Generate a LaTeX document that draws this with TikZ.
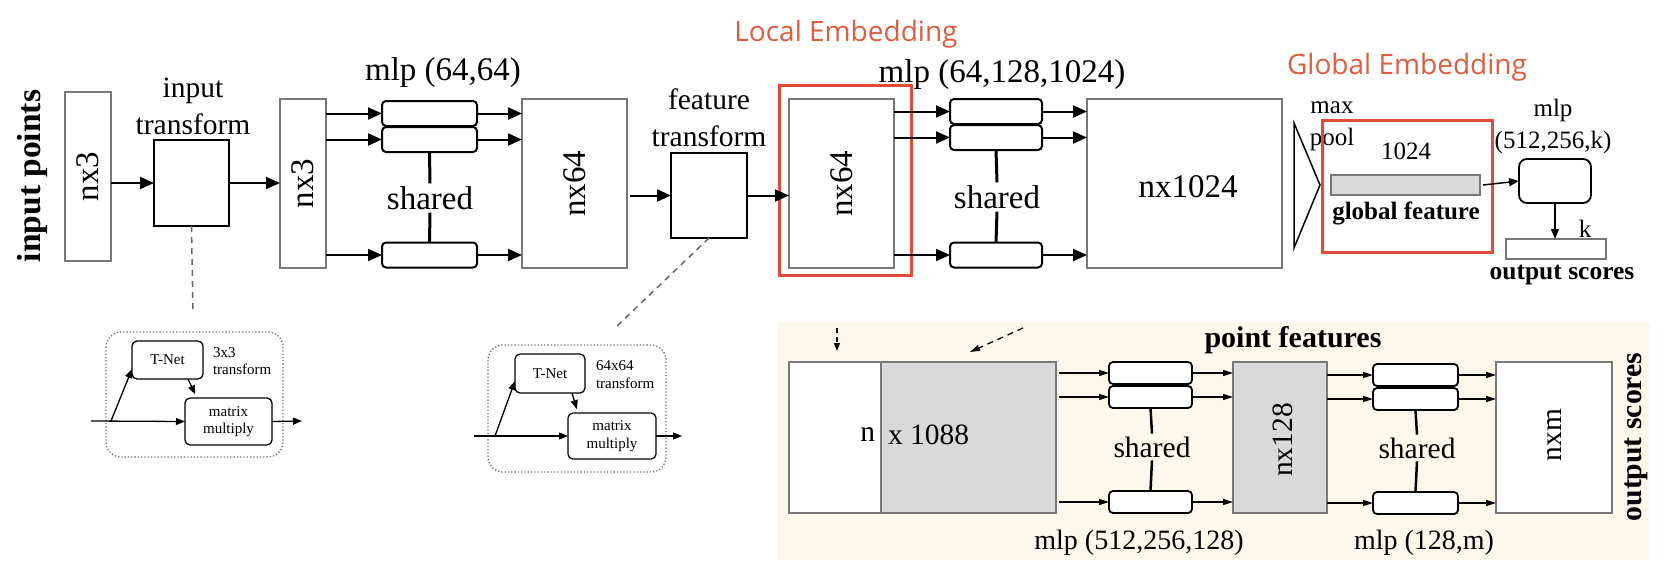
\documentclass[tikz,border=0pt]{standalone}
\usepackage{fontspec}
\setmainfont{Liberation Serif}
\newfontfamily\embfont{Open Sans}
\usetikzlibrary{arrows.meta}
\definecolor{embred}{RGB}{226,76,52}
\definecolor{embtext}{RGB}{222,92,64}
\definecolor{boxgray}{RGB}{120,120,120}
\definecolor{featgray}{RGB}{217,217,217}
\definecolor{panelbg}{RGB}{252,248,236}

\begin{document}
\begin{tikzpicture}[x=1pt, y=-1pt,
    every node/.style={inner sep=0pt, outer sep=0pt},
    bigtxt/.style={font=\fontsize{33}{38}\selectfont},
    midtxt/.style={font=\fontsize{29.5}{37}\selectfont, align=center},
    smalltxt/.style={font=\fontsize{25}{32}\selectfont, align=center},
    tinytxt/.style={font=\fontsize{15}{17.5}\selectfont},
    embtxt/.style={font=\embfont\fontsize{28}{32}\selectfont, text=embtext},
    databox/.style={draw=boxgray, line width=1.5pt, fill=white},
    tbox/.style={draw=black, line width=1.5pt, fill=white},
    mlpbox/.style={draw=black, line width=2pt, rounded corners=4pt, fill=white},
    flow/.style={line width=2pt, -{Triangle[length=14pt,width=12pt]}},
    thinflow/.style={line width=1.3pt, -{Triangle[length=10pt,width=6pt]}},
    sharedline/.style={line width=3pt},
    redbox/.style={draw=embred, line width=3pt},
    callout/.style={draw=black!60, line width=1.5pt, dash pattern=on 6pt off 5pt},
    module/.style={draw=black!55, line width=1.3pt, dotted, rounded corners=15pt},
    tnetbox/.style={draw=black, line width=1.3pt, rounded corners=5pt, fill=white,
        font=\fontsize{15}{17.5}\selectfont, align=center},
    tflow/.style={line width=1.3pt, -{Triangle[length=9pt,width=7pt]}}]

    \useasboundingbox (0,0) rectangle (1673,581);

    \node[embtxt] (locemb) at (846,34) {Local Embedding};
    \node[embtxt] (globemb) at (1407,67) {Global Embedding};

    \node[bigtxt, font=\bfseries\fontsize{33.5}{38}\selectfont, rotate=90] (inlabel) at (32,176) {input points};
    \node[databox, minimum width=46pt, minimum height=169pt] (nx3a) at (88,176.5) {};
    \node[bigtxt, rotate=90] (nx3atxt) at (nx3a) {nx3};
    \node[tbox, minimum width=75pt, minimum height=86pt] (intrans) at (191.5,183) {};
    \node[midtxt] (intranstxt) at (193,106) {input\\transform};
    \node[databox, minimum width=46pt, minimum height=169pt] (nx3b) at (303,183.5) {};
    \node[bigtxt, rotate=90] (nx3btxt) at (nx3b) {nx3};

    \node[bigtxt] (mlpa) at (443,73) {mlp (64,64)};
    \node[mlpbox, minimum width=95pt, minimum height=25pt] (a1) at (429.5,113.5) {};
    \node[mlpbox, minimum width=95pt, minimum height=25pt] (a2) at (429.5,139.5) {};
    \node[mlpbox, minimum width=95pt, minimum height=25pt] (a3) at (429.5,255) {};
    \node[bigtxt, inner sep=3pt] (shareda) at (430,198) {shared};

    \node[databox, minimum width=105pt, minimum height=169pt] (nx64a) at (574.5,183.5) {};
    \node[bigtxt, rotate=90] (nx64atxt) at (nx64a) {nx64};
    \node[tbox, minimum width=76pt, minimum height=85pt] (ftrans) at (709,195.5) {};
    \node[midtxt] (ftranstxt) at (709,118) {feature\\transform};
    \node[databox, minimum width=105pt, minimum height=169pt] (nx64b) at (841.5,183.5) {};
    \node[bigtxt, rotate=90] (nx64btxt) at (nx64b) {nx64};
    \node[redbox, minimum width=132pt, minimum height=190pt] (locbox) at (845,180) {};

    \node[bigtxt] (mlpb) at (1002,75) {mlp (64,128,1024)};
    \node[mlpbox, minimum width=92pt, minimum height=25pt] (b1) at (996,111.5) {};
    \node[mlpbox, minimum width=92pt, minimum height=25pt] (b2) at (996,137.5) {};
    \node[mlpbox, minimum width=92pt, minimum height=25pt] (b3) at (996,255) {};
    \node[bigtxt, inner sep=3pt] (sharedb) at (997,197) {shared};
    \node[databox, minimum width=195pt, minimum height=169pt] (nx1024) at (1184.5,183.5) {};
    \node[bigtxt] (nx1024txt) at (1188,187) {nx1024};

    \draw[line width=1.5pt] (1294,123) -- (1320,185) -- (1294,248) -- cycle;
    \node[smalltxt] (maxpool) at (1332,126) {max\\pool};
    \node[redbox, minimum width=170pt, minimum height=132pt] (globbox) at (1407,186) {};
    \node[smalltxt] (gfdim) at (1406,151) {1024};
    \node[draw=boxgray, line width=1.5pt, fill=featgray, minimum width=149pt, minimum height=20pt] (gf) at (1405.5,185) {};
    \node[smalltxt, font=\bfseries\fontsize{25}{30}\selectfont] (gftxt) at (1406,213) {global feature};
    \node[smalltxt] (mlpk) at (1553,126.5) {mlp\\(512,256,k)};
    \node[mlpbox, line width=1.8pt, rounded corners=8pt, minimum width=72pt, minimum height=44pt] (cls) at (1555,181) {};
    \node[draw=boxgray, line width=1.5pt, minimum width=100pt, minimum height=20pt] (scores) at (1556,249) {};
    \node[smalltxt] (ktxt) at (1585,229) {k};
    \node[smalltxt, font=\bfseries\fontsize{25.5}{30}\selectfont] (scorestxt) at (1562,275) {output scores};

    \draw[flow] (nx3a.east |- intrans.west) -- (intrans.west);
    \draw[flow] (intrans.east) -- (nx3b.west |- intrans.east);
    \foreach \b in {a1,a2,a3} {
        \draw[flow] (nx3b.east |- \b.west) -- (\b.west);
        \draw[flow] (\b.east) -- (nx64a.west |- \b.east);
    }
    \draw[sharedline] (a2.south) -- (shareda.north);
    \draw[sharedline] (shareda.south) -- (a3.north);
    \draw[flow] ([xshift=3pt]nx64a.east |- ftrans.west) -- (ftrans.west);
    \draw[flow] (ftrans.east) -- (nx64b.west |- ftrans.east);
    \foreach \b in {b1,b2,b3} {
        \draw[flow] (nx64b.east |- \b.west) -- (\b.west);
        \draw[flow] (\b.east) -- (nx1024.west |- \b.east);
    }
    \draw[sharedline] (b2.south) -- (sharedb.north);
    \draw[sharedline] (sharedb.south) -- (b3.north);
    \draw[line width=1.5pt, -{Triangle[length=10pt,width=8pt]}] ([xshift=3pt]gf.east) -- (cls.west);
    \draw[line width=1.5pt, -{Triangle[length=10pt,width=8pt]}] (cls.south) -- (cls.south |- scores.north);

    \coordinate (incall) at (193,312);
    \coordinate (featcall) at (616,327);
    \draw[callout] (intrans.south) -- (incall);
    \draw[callout] (ftrans.south) -- (featcall);

    \draw[module] (106,332) rectangle (283,457);
    \node[tnetbox, minimum width=71pt, minimum height=38pt] (tnetl) at (167.5,360) {T-Net};
    \node[tinytxt, align=left, anchor=west] (tnetltxt) at (213,361) {3x3\\transform};
    \node[tnetbox, minimum width=87pt, minimum height=47pt] (mml) at (228.5,421.5) {matrix\\multiply};
    \coordinate (inl) at (91,421);
    \coordinate (splitl) at (111,421);
    \coordinate (outl) at (302,421);
    \draw[tflow] (inl) -- (mml.west);
    \draw[tflow] (splitl) -- (tnetl.west |- 0,369);
    \draw[tflow] (mml.east) -- (outl);
    \draw[tflow, shorten >=4pt] ([xshift=-15pt]tnetl.south east) -- ([xshift=12pt]mml.north west);

    \draw[module] (488,345) rectangle (666,472);
    \node[tnetbox, minimum width=70pt, minimum height=39pt] (tnetr) at (550,373.5) {T-Net};
    \node[tinytxt, align=left, anchor=west] (tnetrtxt) at (596,374.5) {64x64\\transform};
    \node[tnetbox, minimum width=88pt, minimum height=46pt] (mmr) at (612,436) {matrix\\multiply};
    \coordinate (inr) at (474,436);
    \coordinate (splitr) at (495,436);
    \coordinate (outr) at (682,436);
    \draw[tflow] (inr) -- (mmr.west);
    \draw[tflow] (splitr) -- (tnetr.west |- 0,381);
    \draw[tflow] (mmr.east) -- (outr);
    \draw[tflow, shorten >=4pt] ([xshift=-13pt]tnetr.south east) -- ([xshift=10pt]mmr.north west);

    \fill[panelbg] (777,322) rectangle (1650,560);
    \coordinate (segin) at (837,328);
    \coordinate (segglob) at (1023,328);
    \node[font=\bfseries\fontsize{30}{34}\selectfont] (pointfeat) at (1293,340) {point features};
    \node[databox, minimum width=92pt, minimum height=151pt] (catw) at (835,437.5) {};
    \node[databox, fill=featgray, minimum width=175pt, minimum height=151pt] (catg) at (968.5,437.5) {};
    \node[midtxt, anchor=east] (catn) at (875,435) {n};
    \node[midtxt, anchor=west] (catdim) at (888,435) {x 1088};
    \draw[line width=1.3pt, dash pattern=on 5pt off 4pt, -{Triangle[length=8pt,width=6pt]}] (segin) -- (segin |- 0,351);
    \draw[line width=1.3pt, dash pattern=on 6pt off 5pt, -{Triangle[length=10pt,width=6pt]}] (segglob) -- (970,352);

    \node[mlpbox, line width=1.8pt, minimum width=83pt, minimum height=22pt] (c1) at (1150.5,373) {};
    \node[mlpbox, line width=1.8pt, minimum width=83pt, minimum height=22pt] (c2) at (1150.5,397) {};
    \node[mlpbox, line width=1.8pt, minimum width=83pt, minimum height=22pt] (c3) at (1150.5,502) {};
    \node[midtxt, inner sep=3pt] (sharedc) at (1152,447) {shared};
    \node[midtxt, font=\fontsize{28}{32}\selectfont] (mlpc) at (1139,543) {mlp (512,256,128)};
    \node[databox, fill=featgray, minimum width=94pt, minimum height=151pt] (nx128) at (1280,437.5) {};
    \node[midtxt, rotate=90] (nx128txt) at (1283,440) {nx128};
    \node[mlpbox, line width=1.8pt, minimum width=85pt, minimum height=22pt] (d1) at (1415.5,375) {};
    \node[mlpbox, line width=1.8pt, minimum width=85pt, minimum height=22pt] (d2) at (1415.5,399) {};
    \node[mlpbox, line width=1.8pt, minimum width=85pt, minimum height=22pt] (d3) at (1415.5,503) {};
    \node[midtxt, inner sep=3pt] (sharedd) at (1417,448) {shared};
    \node[midtxt, font=\fontsize{28}{32}\selectfont] (mlpd) at (1424,543) {mlp (128,m)};
    \node[databox, minimum width=116pt, minimum height=151pt] (nxm) at (1554,437.5) {};
    \node[midtxt, rotate=90] (nxmtxt) at (1555,435) {nxm};
    \node[font=\bfseries\fontsize{29.7}{34}\selectfont, rotate=90] (segout) at (1636,437) {output scores};

    \foreach \b in {c1,c2,c3} {
        \draw[thinflow] ([xshift=3pt]catg.east |- \b.west) -- (\b.west);
        \draw[thinflow] (\b.east) -- (nx128.west |- \b.east);
    }
    \foreach \b in {d1,d2,d3} {
        \draw[thinflow] (nx128.east |- \b.west) -- (\b.west);
        \draw[thinflow] (\b.east) -- (nxm.west |- \b.east);
    }
    \draw[sharedline, line width=2.5pt] (c2.south) -- (sharedc.north);
    \draw[sharedline, line width=2.5pt] (sharedc.south) -- (c3.north);
    \draw[sharedline, line width=2.5pt] (d2.south) -- (sharedd.north);
    \draw[sharedline, line width=2.5pt] (sharedd.south) -- (d3.north);
\end{tikzpicture}
\end{document}
